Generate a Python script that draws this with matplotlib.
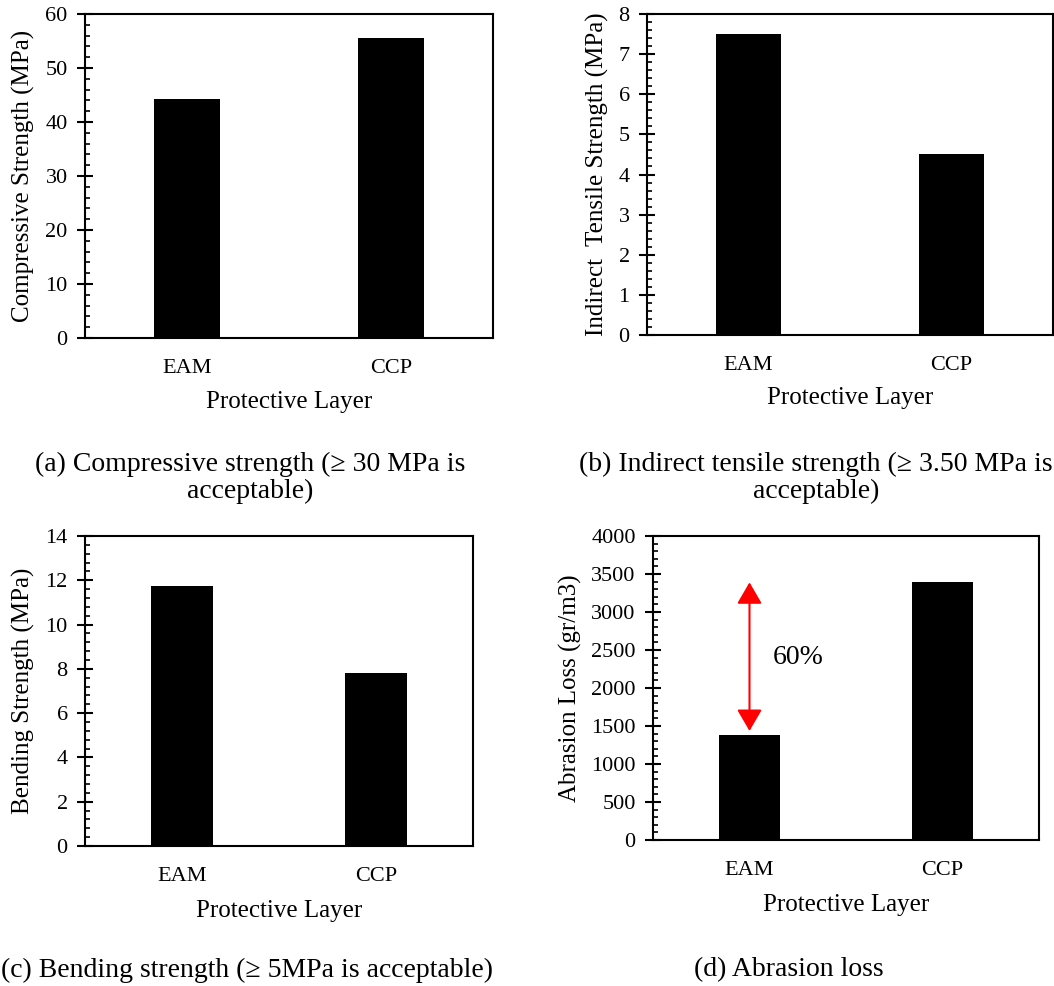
import numpy as np
import matplotlib
matplotlib.use('Agg')
import matplotlib.pyplot as plt
from matplotlib.ticker import MultipleLocator

# Times-like look
plt.rcParams['font.family'] = ['Liberation Serif', 'DejaVu Serif']

# data
layers = ['EAM', 'CCP']
compressive = [44.3, 55.5]     # MPa
tensile = [7.5, 4.5]           # MPa
bending = [11.75, 7.8]         # MPa
abrasion = [1380, 3390]        # gr/m3
abrasion_note = '60%'

ylabels = ['Compressive Strength (MPa)',
           'Indirect  Tensile Strength (MPa)',
           'Bending Strength (MPa)',
           'Abrasion Loss (gr/m3)']
captions = ['(a) Compressive strength (\u2265 30 MPa is\nacceptable)',
            '(b) Indirect tensile strength (\u2265 3.50 MPa is\nacceptable)',
            '(c) Bending strength (\u2265 5MPa is acceptable)',
            '(d) Abrasion loss']

W, H = 1054, 986
fig = plt.figure(figsize=(W / 100, H / 100), dpi=100)


def px_axes(left, top, right, bottom):
    # axes box given in pixels of the final picture
    return fig.add_axes([left / W, 1 - bottom / H, (right - left) / W, (bottom - top) / H])


# box (l, t, r, b), values, ymax, major step, ylabel x, xlabel y
panels = [
    ((85, 14, 493, 338), compressive, 60, 10, -0.122, -0.165),
    ((647, 14, 1053, 335), tensile, 8, 1, -0.094, -0.162),
    ((85, 536, 473, 846), bending, 14, 2, -0.128, -0.175),
    ((653, 536, 1039, 840), abrasion, 4000, 500, -0.185, -0.177),
]

axes = []
for i, (box, vals, ymax, step, ylx, xly) in enumerate(panels):
    ax = px_axes(*box)
    x = np.arange(len(layers))
    ax.bar(x, vals, width=0.32, color='black')
    ax.set_xlim(-0.5, len(layers) - 0.5)
    ax.set_ylim(0, ymax)
    ax.yaxis.set_major_locator(MultipleLocator(step))
    ax.yaxis.set_minor_locator(MultipleLocator(step / 5))
    ax.set_xticks(x)
    ax.set_xticklabels(layers)
    ax.tick_params(axis='x', length=0, pad=15, labelsize=16)
    ax.tick_params(axis='y', which='major', direction='inout', length=11,
                   width=1.5, pad=7, labelsize=16)
    ax.tick_params(axis='y', which='minor', direction='in', length=3.8, width=1.2)
    for s in ax.spines.values():
        s.set_linewidth(1.5)
    ax.set_ylabel(ylabels[i], fontsize=18)
    ax.yaxis.set_label_coords(ylx, 0.5)
    ax.set_xlabel('Protective Layer', fontsize=18)
    ax.xaxis.set_label_coords(0.5, xly)
    axes.append(ax)

# red double arrow between the two abrasion bars
ax = axes[3]
ax.annotate('', xy=(0, abrasion[1]), xytext=(0, abrasion[0]),
            arrowprops=dict(arrowstyle='<|-|>,head_length=0.55,head_width=0.32',
                            color='red', lw=1.5, mutation_scale=24,
                            shrinkA=3, shrinkB=0))
ax.text(0.12, 2400, abrasion_note, fontsize=20, va='center')

# captions under each panel
cap_pos = [(250, 478), (816, 478), (247, 970), (789, 970)]
for (cx, cy), txt in zip(cap_pos, captions):
    fig.text(cx / W, 1 - cy / H, txt, fontsize=20, ha='center', va='center',
             multialignment='center', linespacing=1.12)

plt.savefig('out.png', dpi=100)
